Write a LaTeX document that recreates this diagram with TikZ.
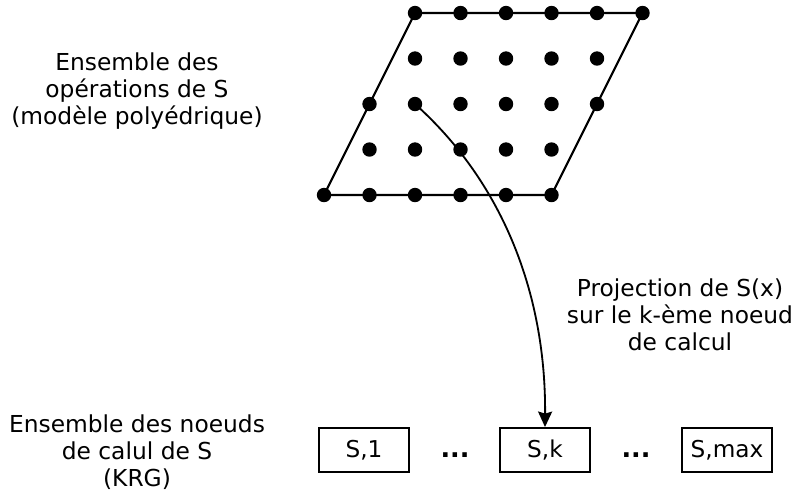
\documentclass[tikz,border=0pt]{standalone}
\usepackage{fontspec}
\setmainfont{DejaVu Sans}
\usetikzlibrary{arrows.meta, positioning}

\begin{document}
\begin{tikzpicture}[x=0.025cm, y=-0.025cm,
    pt/.style={circle, fill=black, inner sep=0pt, minimum size=0.36cm},
    noeud/.style={draw, line width=1.4pt, minimum width=2.25cm,
                  minimum height=1.1cm, font=\fontsize{16.5}{19}\selectfont},
    legende/.style={align=center, font=\fontsize{16.6}{19}\selectfont},
    points/.style={font=\bfseries\fontsize{18}{19}\selectfont}
]
    \useasboundingbox (0,0) rectangle (795,495);

    % Dots of the polyhedral domain (row, first col, last col)
    \foreach \r/\a/\b in {0/2/7, 1/2/6, 2/1/6, 3/1/5, 4/0/5} {
        \foreach \c in {\a,...,\b} {
            \node[pt] (d-\c-\r) at ({324+45.5*\c},{13+45.5*\r}) {};
        }
    }

    % Domain border
    \draw[line width=1.5pt] (d-0-4.center) -- (d-5-4.center)
        -- (d-7-0.center) -- (d-2-0.center) -- cycle;

    % Computing nodes
    \node[noeud] (s1) at (364,450) {S,1};
    \node[noeud] (sk) at (545,450) {S,k};
    \node[noeud] (smax) at (727,450) {S,max};
    \node[points] (p1) at (455,455) {...};
    \node[points] (p2) at (636,455) {...};

    % Projection
    \draw[line width=1.3pt, -{Stealth[length=11pt, width=10pt, inset=1.5pt]}]
        (d-2-2.center) .. controls (500,180) and (546,290) .. (sk.north);

    % Labels
    \node[legende] (ops) at (137,91) {Ensemble des\\opérations de S\\(modèle polyédrique)};
    \node[legende] (proj) at (680,315) {Projection de S(x)\\sur le k-ème noeud\\de calcul};
    \node[legende] (krg) at (137,452) {Ensemble des noeuds\\de calul de S\\(KRG)};
\end{tikzpicture}
\end{document}
